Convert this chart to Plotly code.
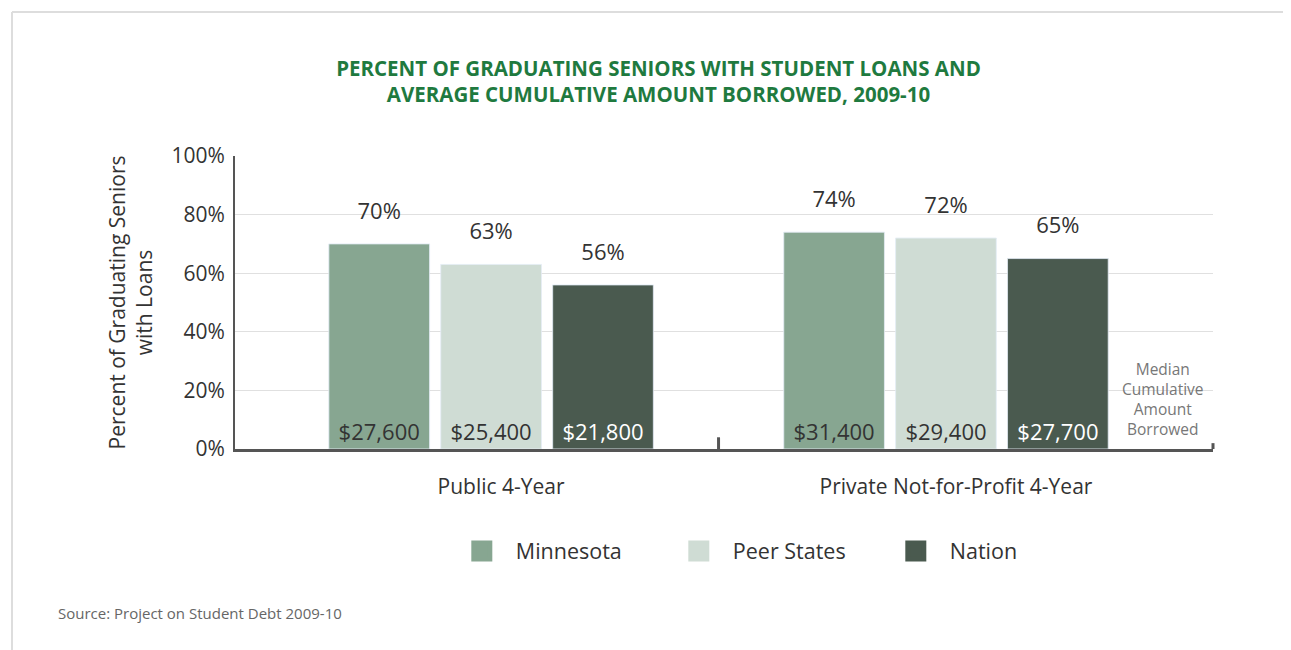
import plotly.graph_objects as go

categories = ["Public 4-Year", "Private Not-for-Profit 4-Year"]
series_names = ["Minnesota", "Peer States", "Nation"]
pct_minnesota = [70, 74]
pct_peer = [63, 72]
pct_nation = [56, 65]
debt_minnesota = ["$27,600", "$31,400"]
debt_peer = ["$25,400", "$29,400"]
debt_nation = ["$21,800", "$27,700"]
y_ticks = [0, 20, 40, 60, 80, 100]
y_tick_labels = ["0%", "20%", "40%", "60%", "80%", "100%"]

colors = ["#87a691", "#cfdcd4", "#4a5a4f"]
inside_text_colors = ["#333333", "#333333", "#ffffff"]
FONT = "Open Sans, Liberation Sans, sans-serif"

pcts = [pct_minnesota, pct_peer, pct_nation]
debts = [debt_minnesota, debt_peer, debt_nation]

fig = go.Figure()
for name, pct, debt, col, tcol in zip(series_names, pcts, debts, colors, inside_text_colors):
    # visible bar with median debt label inside at the bottom
    fig.add_trace(go.Bar(
        x=categories, y=pct, name=name, offsetgroup=name, marker_color=col,
        text=debt, textposition="inside", insidetextanchor="start", textangle=0,
        constraintext="none", insidetextfont=dict(size=22, color=tcol, family=FONT),
        showlegend=False, cliponaxis=False, hoverinfo="skip",
    ))
    # transparent overlay carrying the percent label above the bar
    fig.add_trace(go.Bar(
        x=categories, y=pct, offsetgroup=name, marker_color="rgba(0,0,0,0)",
        text=[f"<span style='font-size:22px'>{v}%</span><br> " for v in pct],
        textposition="outside", textangle=0,
        constraintext="none", outsidetextfont=dict(size=14, color="#333333", family=FONT),
        showlegend=False, cliponaxis=False, hoverinfo="skip",
    ))
    # legend entry
    fig.add_trace(go.Scatter(
        x=[None], y=[None], mode="markers", name=name,
        marker=dict(symbol="square", size=16, color=col, line=dict(color=col, width=5)),
    ))

# the page body adds an 8px offset; the figure is sized to compensate
fig.update_layout(
    width=1283, height=642,
    margin=dict(l=227, r=78, t=148, b=201),
    paper_bgcolor="white", plot_bgcolor="white",
    barmode="group", bargap=0.262, bargroupgap=0.1,
    font=dict(family=FONT, color="#333333"),
    title=dict(
        text="PERCENT OF GRADUATING SENIORS WITH STUDENT LOANS AND<br>AVERAGE CUMULATIVE AMOUNT BORROWED, 2009-10",
        font=dict(size=20.5, color="#1f7a3f", family=FONT, weight="bold"),
        xref="container", x=0.507, xanchor="center",
        yref="container", y=1 - 67.5 / 642, yanchor="middle",
    ),
    showlegend=True,
    legend=dict(
        orientation="h", x=0.2176, xanchor="left", y=-0.348, yanchor="middle",
        font=dict(size=21.5, color="#333333", family=FONT),
        entrywidth=144, entrywidthmode="pixels", itemwidth=58,
        bgcolor="rgba(0,0,0,0)",
    ),
)

fig.update_xaxes(
    range=[-0.563, 1.587], showline=True, linecolor="#555555", linewidth=3,
    ticks="", showgrid=False, ticklabelstandoff=17, ticklabelshift=10,
    tickfont=dict(size=21, color="#333333", family=FONT), fixedrange=True,
)
fig.update_yaxes(
    range=[0, 100], tickvals=y_ticks, ticktext=y_tick_labels,
    showline=True, linecolor="#555555", linewidth=2,
    showgrid=True, gridcolor="#e0e0e0", gridwidth=1, zeroline=False,
    ticks="", ticklabelstandoff=4,
    tickfont=dict(size=21, color="#333333", family=FONT),
    title=dict(text="Percent of Graduating Seniors<br>with Loans",
               font=dict(size=21, color="#333333", family=FONT), standoff=13),
    fixedrange=True,
)

# divider tick between categories and at the right end of the axis
fig.add_shape(type="line", xref="x", yref="paper", x0=0.5, x1=0.5, y0=0, y1=0.04,
              line=dict(color="#555555", width=3))
fig.add_shape(type="line", xref="paper", yref="paper", x0=1, x1=1, y0=0, y1=0.02,
              line=dict(color="#555555", width=3))

# frame lines (top and left)
fig.add_shape(type="line", xref="paper", yref="paper", x0=-0.228, x1=1.1, y0=1.4915, y1=1.4915,
              line=dict(color="#dddddd", width=2))
fig.add_shape(type="line", xref="paper", yref="paper", x0=-0.228, x1=-0.228, y0=1.4915, y1=-0.69,
              line=dict(color="#dddddd", width=2))

fig.add_annotation(
    text="Median<br>Cumulative<br>Amount<br>Borrowed", xref="paper", yref="y",
    x=0.949, y=17.2, xanchor="center", yanchor="middle", showarrow=False,
    font=dict(size=15.5, color="#777777", family=FONT),
)
fig.add_annotation(
    text="Source: Project on Student Debt 2009-10", xref="paper", yref="paper",
    x=-0.183, y=-0.56, xanchor="left", yanchor="middle", showarrow=False,
    font=dict(size=15, color="#666666", family=FONT),
)

fig.write_html("out.html")
